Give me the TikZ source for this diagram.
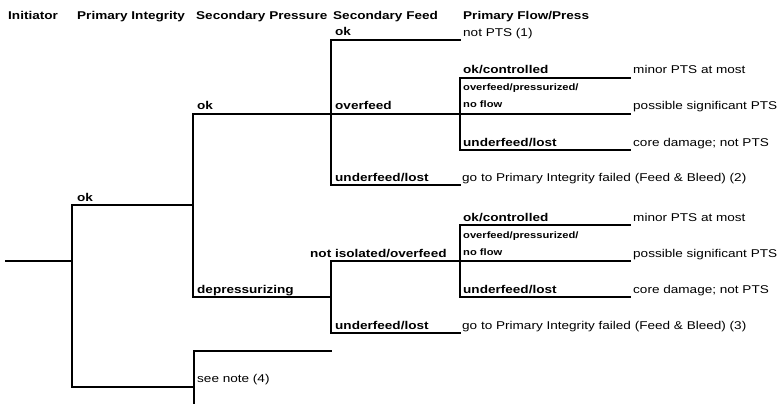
\documentclass[tikz,border=0pt]{standalone}
\usepackage{fontspec}
\setmainfont{Liberation Sans}[FakeStretch=1.2]
\begin{document}
\begin{tikzpicture}[x=1pt,y=-1pt,
  branch/.style={line width=1.4pt,line cap=rect},
  heavy/.style={line width=2.4pt,line cap=rect},
  head/.style={anchor=base west,inner sep=0pt,font=\fontsize{11.3}{13}\selectfont\bfseries},
  lbl/.style={anchor=base west,inner sep=0pt,font=\fontsize{11.3}{13}\selectfont\bfseries},
  tiny/.style={anchor=base west,inner sep=0pt,font=\fontsize{9.3}{11}\selectfont\bfseries},
  outcome/.style={anchor=base west,inner sep=0pt,font=\fontsize{11.3}{13}\selectfont},
]
\useasboundingbox[fill=white] (0,0) rectangle (779,404);

% column headings
\node[head] (hInit) at (8,20) {Initiator};
\node[head] (hPI)   at (77,20) {Primary Integrity};
\node[head] (hSP)   at (196,20) {Secondary Pressure};
\node[head] (hSF)   at (333,20) {Secondary Feed};
\node[head] (hPF)   at (463,20) {Primary Flow/Press};

% junction points of the event tree
\coordinate (init) at (6,261);
\coordinate (pi)   at (72,261);
\coordinate (piT)  at (72,205);
\coordinate (piB)  at (72,387);
\coordinate (sp)   at (193,205);
\coordinate (spT)  at (193,114);
\coordinate (spB)  at (193,297);
\coordinate (nt)   at (193,387);
\coordinate (ntT)  at (194,351);
\coordinate (ntB)  at (194,404);
\coordinate (ntE)  at (331,351);
% upper secondary feed
\coordinate (sfA)  at (331,114);
\coordinate (sfAT) at (331,40);
\coordinate (sfAB) at (331,185);
\coordinate (eA1)  at (460,40);
\coordinate (pfA)  at (460,114);
\coordinate (eA3)  at (460,185);
\coordinate (pfAT) at (460,78);
\coordinate (pfAB) at (460,150);
\coordinate (oA1)  at (630,78);
\coordinate (oA2)  at (630,114);
\coordinate (oA3)  at (630,150);
% lower secondary feed
\coordinate (sfB)  at (331,297);
\coordinate (sfBT) at (331,261);
\coordinate (sfBB) at (331,333);
\coordinate (pfB)  at (460,261);
\coordinate (eB3)  at (460,333);
\coordinate (pfBT) at (460,225);
\coordinate (pfBB) at (460,297);
\coordinate (oB1)  at (630,225);
\coordinate (oB2)  at (630,261);
\coordinate (oB3)  at (630,297);

% branches
\draw[branch] (init) -- (pi);
\draw[branch] (piT) -- (piB);
\draw[branch] (piT) -- (sp);
\draw[heavy]  (piB) -- (nt);
\draw[branch] (spT) -- (sp);
\draw[heavy]  (sp) -- (spB);
\draw[branch] (spT) -- (sfA);
\draw[branch,line width=1.9pt] (spB) -- (sfB);
\draw[branch] (ntT) -- (ntB);
\draw[branch] (ntT) -- (ntE);

\draw[branch] (sfAT) -- (sfAB);
\draw[branch] (sfAT) -- (eA1);
\draw[branch] (sfA) -- (pfA);
\draw[branch] (sfAB) -- (eA3);
\draw[branch] (pfAT) -- (pfAB);
\draw[branch] (pfAT) -- (oA1);
\draw[branch] (pfA) -- (oA2);
\draw[branch,line width=1.9pt] (pfAB) -- (oA3);

\draw[branch] (sfBT) -- (sfBB);
\draw[branch] (sfBT) -- (pfB);
\draw[branch] (sfBB) -- (eB3);
\draw[branch] (pfBT) -- (pfBB);
\draw[heavy]  (pfBT) -- (oB1);
\draw[branch] (pfB) -- (oB2);
\draw[branch] (pfBB) -- (oB3);

% branch labels
\node[lbl] (lPIok)  at (77,201) {ok};
\node[lbl] (lSPok)  at (197,110) {ok};
\node[lbl] (lSPdep) at (197,293) {depressurizing};
\node[outcome] (lNote) at (197,382) {see note (4)};
\node[lbl] (lSFok)  at (335,36) {ok};
\node[lbl] (lSFov)  at (335,110) {overfeed};
\node[lbl] (lSFun)  at (335,181) {underfeed/lost};
\node[lbl] (lSFni)  at (310,257) {not isolated/overfeed};
\node[lbl] (lSFun2) at (335,329) {underfeed/lost};
\node[lbl]  (lPFok)   at (463,74) {ok/controlled};
\node[tiny] (lPFov)   at (463,90) {overfeed/pressurized/};
\node[tiny] (lPFnf)   at (463,107) {no flow};
\node[lbl]  (lPFun)   at (463,146) {underfeed/lost};
\node[lbl]  (lPFok2)  at (463,221) {ok/controlled};
\node[tiny] (lPFov2)  at (463,238) {overfeed/pressurized/};
\node[tiny] (lPFnf2)  at (463,255) {no flow};
\node[lbl]  (lPFun2)  at (463,293) {underfeed/lost};

% end states
\node[outcome] (o1) at (463,37) {not PTS (1)};
\node[outcome] (o2) at (633,74) {minor PTS at most};
\node[outcome] (o3) at (633,110) {possible significant PTS};
\node[outcome] (o4) at (633,146) {core damage; not PTS};
\node[outcome] (o5) at (462,181) {go to Primary Integrity failed (Feed \& Bleed) (2)};
\node[outcome] (o6) at (633,221) {minor PTS at most};
\node[outcome] (o7) at (633,257) {possible significant PTS};
\node[outcome] (o8) at (633,293) {core damage; not PTS};
\node[outcome] (o9) at (462,329) {go to Primary Integrity failed (Feed \& Bleed) (3)};
\end{tikzpicture}
\end{document}
